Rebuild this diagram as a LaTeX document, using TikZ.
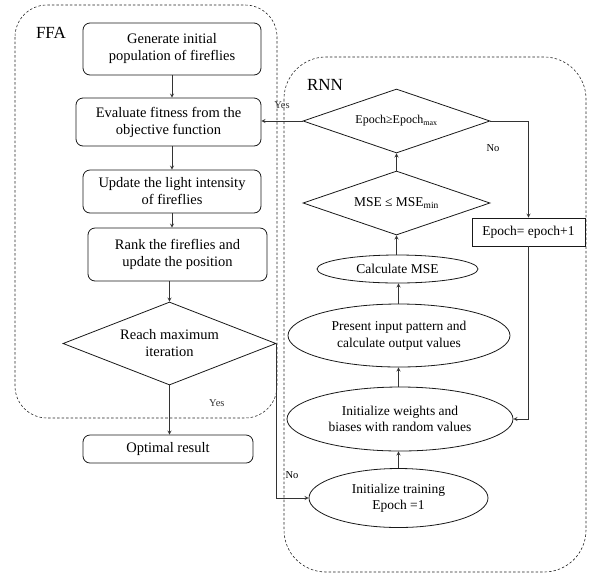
\documentclass[tikz,border=0pt]{standalone}
\usepackage{amsmath,amssymb}
\usepackage{fontspec}
\setmainfont{Liberation Serif}
\usetikzlibrary{shapes.geometric}

\begin{document}
\begin{tikzpicture}[>=stealth, x=1pt, y=-1pt,
    ffabox/.style={draw=black!90, line width=0.8pt, rounded corners=7pt, align=center, inner sep=0pt,
      font=\fontsize{14.5}{17}\selectfont},
    plainbox/.style={draw=black!90, line width=0.8pt, align=center, inner sep=0pt,
      font=\fontsize{13.5}{16}\selectfont},
    rnnoval/.style={draw=black!90, line width=0.8pt, ellipse, align=center, inner sep=0pt,
      font=\fontsize{13.5}{16.5}\selectfont},
    decide/.style={draw=black!90, line width=0.8pt, diamond, align=center, inner sep=0pt,
      font=\fontsize{14.5}{17}\selectfont},
    region/.style={draw=black!85, line width=0.6pt, dash pattern=on 2.5pt off 2pt},
    tag/.style={font=\fontsize{17}{20}\selectfont},
    answer/.style={font=\fontsize{10.5}{12}\selectfont},
  ]
  \useasboundingbox (0,0) rectangle (604,574);

  \draw[region, rounded corners=32pt] (15,5) rectangle (277,418);
  \draw[region, rounded corners=42pt] (284,57) rectangle (586,572);
  \node[tag] (ffa) at (51,33) {FFA};
  \node[tag] (rnn) at (325,85) {RNN};

  \node[ffabox, minimum width=178pt, minimum height=52pt] (generate) at (172,49) {Generate initial\\population of fireflies};
  \node[ffabox, minimum width=185pt, minimum height=48pt] (evaluate) at (168.5,122) {Evaluate fitness from the\\objective function};
  \node[ffabox, minimum width=178pt, minimum height=43pt] (light) at (172,191.5) {Update the light intensity\\of fireflies};
  \node[ffabox, minimum width=179pt, minimum height=53pt] (rank) at (177.5,254.5) {Rank the fireflies and\\update the position};
  \node[decide, aspect=2.57, minimum width=213pt, minimum height=83pt] (reach) at (169.5,343.5) {Reach maximum\\iteration};
  \node[ffabox, minimum width=170pt, minimum height=28pt] (optimal) at (168,449) {Optimal result};

  \node[decide, aspect=2.9, minimum width=187pt, minimum height=64pt, font=\fontsize{12}{14}\selectfont] (epochmax) at (396.5,121) {Epoch≥Epoch\textsubscript{max}};
  \node[decide, aspect=2.9, minimum width=187pt, minimum height=64pt, font=\fontsize{13.5}{16}\selectfont] (msemin) at (396.5,203) {MSE ≤ MSE\textsubscript{min}};
  \node[plainbox, minimum width=113pt, minimum height=28pt] (increment) at (528.5,232) {Epoch= epoch+1};
  \node[rnnoval, minimum width=161pt, minimum height=28pt] (calcmse) at (397.5,269) {Calculate MSE};
  \node[rnnoval, minimum width=222pt, minimum height=63pt] (present) at (399,335.5) {Present input pattern and\\calculate output values};
  \node[rnnoval, minimum width=226pt, minimum height=64pt] (weights) at (400,419) {Initialize weights and\\biases with random values};
  \node[rnnoval, minimum width=179pt, minimum height=59pt] (training) at (398.5,498) {Initialize training\\Epoch =1};

  \draw[->, thick, black!80] (generate.south) -- (generate.south |- evaluate.north);
  \draw[->, thick, black!80] (evaluate.south -| generate.south) -- (generate.south |- light.north);
  \draw[->, thick, black!80] (light.south -| generate.south) -- (generate.south |- rank.north);
  \draw[->, thick, black!80] (rank.south -| reach.north) -- (reach.north);
  \draw[->, thick, black!80] (reach.south) -- (reach.south |- optimal.north) node [pos=0.35, right=36pt, answer] {Yes};
  \draw[->, thick, black!80] (reach.east) |- (training.west);
  \node[answer] (nolow) at (292,475) {No};

  \draw[->, thick, black!80] (training.north) -- (training.north |- weights.south);
  \draw[->, thick, black!80] (weights.north -| training.north) -- (training.north |- present.south);
  \draw[->, thick, black!80] (present.north -| training.north) -- (training.north |- calcmse.south);
  \draw[->, thick, black!80] (calcmse.north -| msemin.south) -- (msemin.south);
  \draw[->, thick, black!80] (msemin.north) -- (epochmax.south);
  \draw[->, thick, black!80] (epochmax.west) -- (epochmax.west -| evaluate.east) node [midway, above=9pt, answer] {Yes};
  \draw[->, thick, black!80] (epochmax.east) -| (increment.north);
  \node[answer] (nohigh) at (493,148) {No};
  \draw[->, thick, black!80] (increment.south) |- (weights.east);
\end{tikzpicture}
\end{document}
